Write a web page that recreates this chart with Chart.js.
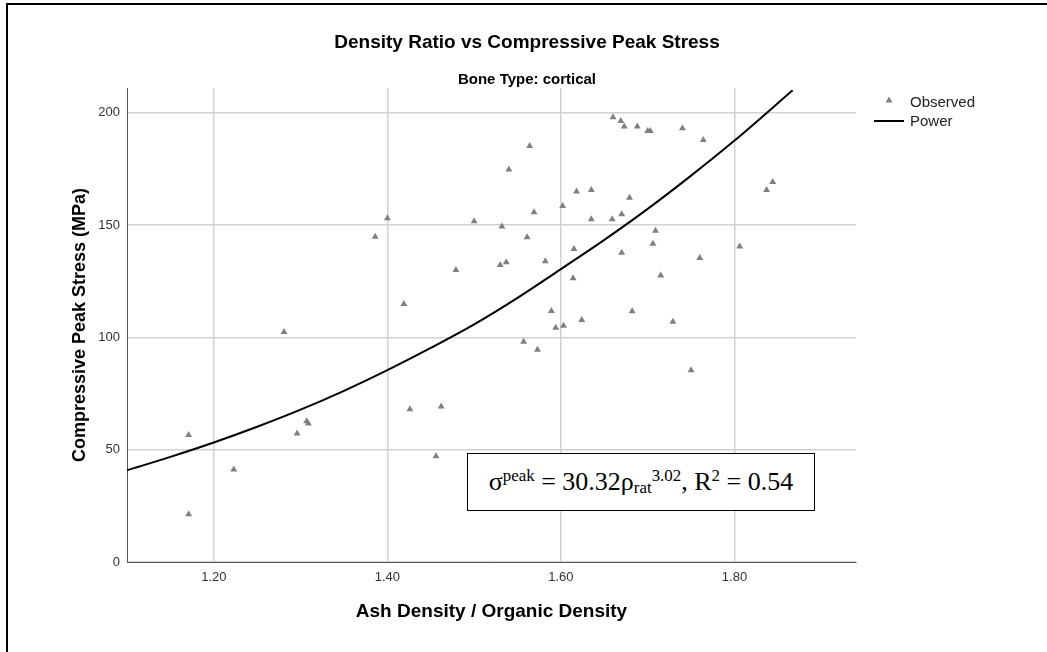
<!DOCTYPE html>
<html>
<head>
<meta charset="utf-8">
<script src="https://cdn.jsdelivr.net/npm/chart.js@4"></script>
<style>
  body { margin: 0; background: #fff; }
  #wrap { position: relative; width: 1047px; height: 652px; overflow: hidden; }
  #frame { position: absolute; left: 6px; top: 3px; width: 2000px; height: 2000px;
           border-left: 2px solid #000; border-top: 2px solid #000; }
  #eq { position: absolute; left: 467px; top: 453px; width: 346px; height: 56px;
        border: 1px solid #000; background: #fff; text-align: center;
        font-family: "Liberation Serif", "Times New Roman", serif; font-size: 26px;
        line-height: 56px; color: #000; white-space: nowrap; }
  #eq sup, #eq sub { font-size: 65%; line-height: 0; }
  #eq sup { vertical-align: 0.55em; }
  #eq sub { vertical-align: -0.15em; }
  canvas { position: absolute; left: 0; top: 0; }
</style>
</head>
<body>
<div id="wrap">
  <canvas id="chart" width="1047" height="652"></canvas>
  <div id="frame"></div>
  <div id="eq">&sigma;<sup>peak</sup> = 30.32&rho;<sub>rat</sub><sup>3.02</sup>, R<sup>2</sup> = 0.54</div>
</div>
<script>
// ----- DATA -----
const obsX = [1.171, 1.171, 1.223, 1.281, 1.296, 1.307, 1.309, 1.386, 1.400, 1.419,
  1.426, 1.456, 1.462, 1.479, 1.500, 1.530, 1.532, 1.537, 1.540, 1.557,
  1.561, 1.564, 1.569, 1.573, 1.582, 1.589, 1.594, 1.602, 1.603, 1.614,
  1.615, 1.618, 1.624, 1.635, 1.635, 1.659, 1.660, 1.669, 1.670, 1.670,
  1.673, 1.679, 1.682, 1.688, 1.700, 1.703, 1.706, 1.709, 1.715, 1.729,
  1.740, 1.750, 1.760, 1.764, 1.806, 1.837, 1.844];
const obsY = [56.5, 21.3, 41.2, 102.4, 57.2, 62.6, 61.7, 144.8, 153.0, 114.8,
  68.0, 47.1, 69.2, 130.0, 151.7, 132.2, 149.3, 133.4, 174.7, 98.0,
  144.6, 185.2, 155.7, 94.5, 133.9, 111.7, 104.3, 158.5, 105.2, 126.3,
  139.3, 164.9, 107.7, 165.6, 152.6, 152.6, 198.0, 196.3, 154.8, 137.7,
  193.9, 162.2, 111.6, 193.9, 191.9, 191.9, 141.7, 147.5, 127.5, 107.0,
  193.1, 85.4, 135.3, 187.8, 140.4, 165.6, 169.2];

// power fit line
const fitX = [1.10, 1.15, 1.20, 1.25, 1.30, 1.35, 1.40, 1.45, 1.50, 1.55, 1.60, 1.65, 1.70, 1.75, 1.80, 1.867];
const fitY = [40.8, 46.8, 53.2, 60.2, 67.8, 76.2, 85.4, 95.3, 105.8, 117.6, 130.4, 143.4, 157.2, 172.0, 187.6, 210.0];

const xTicks = [1.20, 1.40, 1.60, 1.80];
const yTicks = [0, 50, 100, 150, 200];

const chartTitle = 'Density Ratio vs Compressive Peak Stress';
const chartSubtitle = 'Bone Type: cortical';
const legendLabels = ['Observed', 'Power'];

// ----- DECOR (titles + legend) -----
const decor = {
  id: 'decor',
  afterDraw(chart) {
    const ctx = chart.ctx;
    ctx.save();
    ctx.fillStyle = '#000';
    ctx.textAlign = 'center';
    ctx.textBaseline = 'middle';
    ctx.font = 'bold 19px "Liberation Sans", Arial, sans-serif';
    ctx.fillText(chartTitle, 527, 43);
    ctx.font = 'bold 15px "Liberation Sans", Arial, sans-serif';
    ctx.fillText(chartSubtitle, 527, 80);

    // legend
    ctx.fillStyle = '#808080';
    ctx.beginPath();
    ctx.moveTo(889, 96.5);
    ctx.lineTo(892.5, 102.5);
    ctx.lineTo(885.5, 102.5);
    ctx.closePath();
    ctx.fill();
    ctx.strokeStyle = '#000';
    ctx.lineWidth = 2;
    ctx.beginPath();
    ctx.moveTo(874, 121);
    ctx.lineTo(904, 121);
    ctx.stroke();
    ctx.fillStyle = '#222';
    ctx.textAlign = 'left';
    ctx.font = '15px "Liberation Sans", Arial, sans-serif';
    ctx.fillText(legendLabels[0], 910, 103);
    ctx.fillText(legendLabels[1], 910, 122);
    ctx.restore();
  }
};

// ----- CHART -----
new Chart(document.getElementById('chart'), {
  type: 'scatter',
  data: {
    datasets: [
      {
        label: legendLabels[0],
        data: obsX.map((x, i) => ({ x: x, y: obsY[i] })),
        pointStyle: 'triangle',
        pointRadius: 4,
        backgroundColor: '#808080',
        borderColor: '#808080',
        borderWidth: 0
      },
      {
        label: legendLabels[1],
        type: 'line',
        data: fitX.map((x, i) => ({ x: x, y: fitY[i] })),
        showLine: true,
        pointRadius: 0,
        borderColor: '#000',
        borderWidth: 2,
        cubicInterpolationMode: 'monotone',
        fill: false
      }
    ]
  },
  options: {
    responsive: false,
    animation: false,
    layout: { padding: { left: 0, top: 88, right: 191, bottom: 0 } },
    plugins: { legend: { display: false }, tooltip: { enabled: false } },
    scales: {
      x: {
        type: 'linear',
        min: 1.10,
        max: 1.94,
        afterBuildTicks: s => { s.ticks = xTicks.map(v => ({ value: v })); },
        afterFit: s => { s.height = 90; },
        ticks: {
          padding: 8,
          color: '#333',
          font: { family: '"Liberation Sans", Arial, sans-serif', size: 13 },
          callback: v => Number(v).toFixed(2)
        },
        grid: { color: '#d2d2d2', lineWidth: 1.5, drawTicks: false },
        border: { display: true, color: '#555', width: 1 },
        title: {
          display: true,
          text: 'Ash Density / Organic Density',
          color: '#000',
          font: { family: '"Liberation Sans", Arial, sans-serif', size: 19, weight: 'bold' },
          padding: { top: 0, bottom: 29 }
        }
      },
      y: {
        type: 'linear',
        min: 0,
        max: 211,
        afterBuildTicks: s => { s.ticks = yTicks.map(v => ({ value: v })); },
        afterFit: s => { s.width = 127; },
        ticks: {
          padding: 7,
          color: '#333',
          font: { family: '"Liberation Sans", Arial, sans-serif', size: 13 }
        },
        grid: { color: '#d2d2d2', lineWidth: 1.5, drawTicks: false },
        border: { display: true, color: '#555', width: 1 },
        title: {
          display: true,
          text: 'Compressive Peak Stress (MPa)',
          color: '#000',
          font: { family: '"Liberation Sans", Arial, sans-serif', size: 18, weight: 'bold' },
          padding: { top: 69, bottom: 0 }
        }
      }
    }
  },
  plugins: [decor]
});
</script>
</body>
</html>
